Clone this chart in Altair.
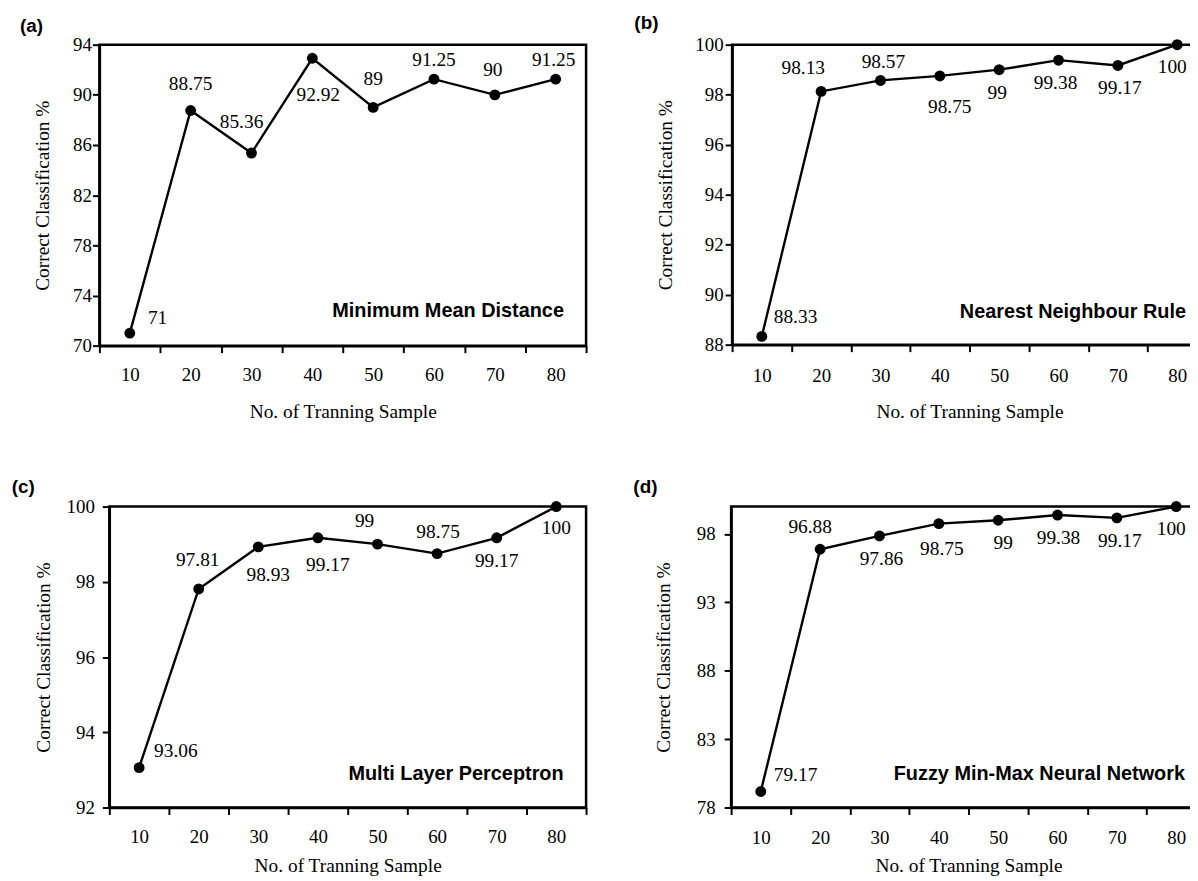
import altair as alt
import pandas as pd

# ---------------- data ----------------
samples = [10, 20, 30, 40, 50, 60, 70, 80]

mmd_values = [71, 88.75, 85.36, 92.92, 89, 91.25, 90, 91.25]
mmd_labels = ["71", "88.75", "85.36", "92.92", "89", "91.25", "90", "91.25"]

nnr_values = [88.33, 98.13, 98.57, 98.75, 99, 99.38, 99.17, 100]
nnr_labels = ["88.33", "98.13", "98.57", "98.75", "99", "99.38", "99.17", "100"]

mlp_values = [93.06, 97.81, 98.93, 99.17, 99, 98.75, 99.17, 100]
mlp_labels = ["93.06", "97.81", "98.93", "99.17", "99", "98.75", "99.17", "100"]

fmm_values = [79.17, 96.88, 97.86, 98.75, 99, 99.38, 99.17, 100]
fmm_labels = ["79.17", "96.88", "97.86", "98.75", "99", "99.38", "99.17", "100"]

mmd_yticks = [70, 74, 78, 82, 86, 90, 94]
nnr_yticks = [88, 90, 92, 94, 96, 98, 100]
mlp_yticks = [92, 94, 96, 98, 100]
fmm_yticks = [78, 83, 88, 93, 98]

# label offsets (pixels, style only)
mmd_dx = [28, 0, -10, 6, 0, 0, -2, -2]
mmd_dy = [-15, -27, -31, 37, -29, -19, -25, -19]
nnr_dx = [34, -18, 3, 10, -2, -3, 2, -5]
nnr_dy = [-19, -24, -19, 31, 24, 23, 23, 22]
mlp_dx = [37, -1, 10, 10, -13, 1, 0, 0]
mlp_dy = [-17, -29, 28, 27, -23, -22, 23, 22]
fmm_dx = [35, -10, 2, 3, 5, 1, 3, -5]
fmm_dy = [-17, -22, 23, 26, 23, 23, 23, 23]

SERIF = "Liberation Serif"
SANS = "Liberation Sans"


def panel(values, labels, dx, dy, ydomain, yticks, method, letter, lay):
    df = pd.DataFrame({"n": samples, "v": values, "lab": labels})
    base = alt.Chart(df)
    x = alt.X(
        "n:O",
        scale=alt.Scale(type="band", paddingInner=0, paddingOuter=0),
        bandPosition=0.5,
        axis=alt.Axis(
            title="No. of Tranning Sample",
            labelAngle=0,
            tickBand="extent",
            labelPadding=lay["xlp"],
            labelBaseline="middle",
            titleY=lay["xty"],
            titleBaseline="middle",
        ),
    )
    y = alt.Y(
        "v:Q",
        scale=alt.Scale(domain=ydomain, nice=False, zero=False),
        axis=alt.Axis(
            values=yticks,
            title="Correct Classification %",
            titleX=lay["ytx"],
            titleBaseline="middle",
            labelPadding=lay["ylp"],
        ),
    )
    one = pd.DataFrame({"t": [letter], "m": [method]})
    box = alt.Chart(one).mark_rect(opacity=0).encode(
        x=alt.value(lay["L"]), x2=alt.value(lay["R"]),
        y=alt.value(lay["T"]), y2=alt.value(lay["B"]),
    )
    line = base.mark_line(color="black", strokeWidth=2.4).encode(x=x, y=y)
    pts = base.mark_circle(size=120, color="black", opacity=1).encode(x=x, y=y)
    texts = [
        base.transform_filter(alt.datum.n == s)
        .mark_text(dx=ddx, dy=ddy, font=SERIF, fontSize=19.5, color="black",
                   align="center", baseline="middle")
        .encode(x=x, y=y, text="lab:N")
        for s, ddx, ddy in zip(samples, dx, dy)
    ]
    let = alt.Chart(one).mark_text(
        font=SANS, fontSize=19, fontWeight="bold", align="left",
        baseline="middle", color="black",
    ).encode(text="t:N", x=alt.value(lay["lx"]), y=alt.value(lay["ly"]))
    meth = alt.Chart(one).mark_text(
        font=SANS, fontSize=20, fontWeight="bold", align="right",
        baseline="middle", color="black",
    ).encode(text="m:N", x=alt.value(lay["mx"]), y=alt.value(lay["my"]))
    return alt.layer(box, line, pts, *texts, let, meth).properties(
        width=lay["w"], height=lay["h"]
    )


def spacer():
    return (
        alt.Chart(pd.DataFrame({"k": [0]}))
        .mark_rect(opacity=0)
        .encode(x=alt.value(0), x2=alt.value(1), y=alt.value(0), y2=alt.value(1))
        .properties(width=1, height=1,
                    view=alt.ViewBackground(stroke="transparent", strokeWidth=0))
    )


lay_a = dict(w=490, h=303, L=-90, T=-36, R=502, B=396, lx=-80, ly=-18.5,
             mx=467.7, my=267.7, xlp=22, xty=66, ytx=-57, ylp=1)
lay_b = dict(w=478, h=302, L=-131, T=-35, R=490, B=396, lx=-98.4, ly=-21.5,
             mx=457, my=268.7, xlp=24, xty=67, ytx=-67.5, ylp=2)
lay_c = dict(w=480, h=303, L=-100.3, T=-65, R=491.7, B=420, lx=-98.3, ly=-20,
             mx=457.4, my=269, xlp=22, xty=58, ytx=-66.5, ylp=8)
lay_d = dict(w=478, h=303, L=-131, T=-65, R=490, B=420, lx=-98.4, ly=-20,
             mx=457, my=269, xlp=23, xty=58, ytx=-68, ylp=9)

pa = panel(mmd_values, mmd_labels, mmd_dx, mmd_dy, [70, 94], mmd_yticks,
           "Minimum Mean Distance", "(a)", lay_a)
pb = panel(nnr_values, nnr_labels, nnr_dx, nnr_dy, [88, 100], nnr_yticks,
           "Nearest Neighbour Rule", "(b)", lay_b)
pc = panel(mlp_values, mlp_labels, mlp_dx, mlp_dy, [92, 100], mlp_yticks,
           "Multi Layer Perceptron", "(c)", lay_c)
pd_ = panel(fmm_values, fmm_labels, fmm_dx, fmm_dy, [78, 100], fmm_yticks,
            "Fuzzy Min-Max Neural Network", "(d)", lay_d)

chart = (
    alt.vconcat(
        alt.hconcat(spacer(), pa, pb, spacing=0),
        alt.hconcat(spacer(), pc, pd_, spacing=0),
        spacing=0,
    )
    .properties(padding={"left": -1, "top": -4, "right": -31, "bottom": -53},
                background="white")
    .configure_view(stroke="black", strokeWidth=2.5)
    .configure_axis(
        domainColor="black", domainWidth=2.5,
        tickColor="black", tickWidth=2, tickSize=7,
        labelColor="black", titleColor="black",
        labelFont=SERIF, titleFont=SERIF,
        labelFontSize=19, titleFontSize=19.5, titleFontWeight="normal",
        grid=False,
    )
)

chart.save("out.html", embed_options={"renderer": "svg", "actions": False})
